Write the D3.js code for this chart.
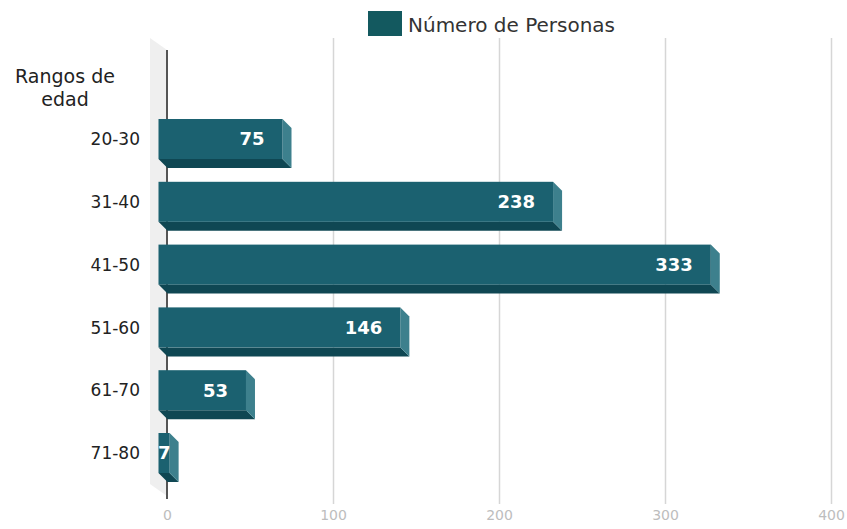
<!DOCTYPE html>
<html>
<head>
<meta charset="utf-8">
<script src="https://cdn.jsdelivr.net/npm/d3@7"></script>
<style>
  body { margin: 0; background: #fff; }
  text { font-family: "DejaVu Sans", sans-serif; }
</style>
</head>
<body>
<div id="chart"></div>
<script>
(function() {
  var categories = ["20-30", "31-40", "41-50", "51-60", "61-70", "71-80"];
  var values = [75, 238, 333, 146, 53, 7];
  var xTicks = [0, 100, 200, 300, 400];
  var seriesName = "Número de Personas";
  var axisTitle = ["Rangos de", "edad"];

  var outerWidth = 847,
      outerHeight = 529,
      depth = 9,
      barHeight = 40;

  var x = d3.scaleLinear()
      .domain([0, 400])
      .range([167, 831]);

  var y = d3.scalePoint()
      .domain(categories)
      .range([139, 453]);

  var svg = d3.select("#chart").append("svg")
      .attr("width", outerWidth)
      .attr("height", outerHeight);

  // side wall (3d look)
  var wallTop = 38, wallBottom = 496;
  svg.append("polygon")
      .attr("points", [
        [x(0) - 17, wallTop], [x(0), wallTop + 12],
        [x(0), wallBottom], [x(0) - 17, wallBottom - 12]
      ].join(" "))
      .attr("fill", "#efefef");

  // grid
  var xAxis = d3.axisBottom(x)
      .tickValues(xTicks)
      .tickSize(-(504 - 38))
      .tickPadding(6)
      .tickFormat(d => d);

  svg.append("g")
      .attr("class", "x axis")
      .attr("transform", "translate(0,504)")
      .call(xAxis)
      .call(g => g.select(".domain").remove())
      .call(g => g.selectAll(".tick line")
        .attr("stroke", "#d6d6d6")
        .attr("stroke-width", 1.5))
      .call(g => g.selectAll(".tick").filter(d => d === 0).select("line").remove())
      .call(g => g.selectAll(".tick text")
        .attr("fill", "#bdbdbd")
        .attr("font-size", "14px")
        .attr("font-family", "Roboto, sans-serif"));

  // zero line
  svg.append("line")
      .attr("x1", x(0)).attr("x2", x(0))
      .attr("y1", 50).attr("y2", 499)
      .attr("stroke", "#555")
      .attr("stroke-width", 2);

  // bars
  var bars = svg.append("g")
    .selectAll("g")
    .data(categories.map((c, i) => ({ cat: c, value: values[i] })))
    .join("g");

  bars.each(function(d) {
    var g = d3.select(this),
        x0 = x(0) - depth + 0.5,
        x1 = x(d.value) - depth,
        y0 = y(d.cat) - barHeight / 2,
        y1 = y(d.cat) + barHeight / 2;

    // bottom face
    g.append("polygon")
        .attr("points", [[x0, y1], [x1, y1], [x1 + depth, y1 + depth], [x0 + depth, y1 + depth]].join(" "))
        .attr("fill", "#0f4753");
    // right face
    g.append("polygon")
        .attr("points", [[x1, y0], [x1 + depth, y0 + depth], [x1 + depth, y1 + depth], [x1, y1]].join(" "))
        .attr("fill", "#3d808d");
    // front face
    g.append("rect")
        .attr("x", x0)
        .attr("y", y0)
        .attr("width", x1 - x0)
        .attr("height", barHeight)
        .attr("fill", "#1b6170");

    g.append("text")
        .attr("x", Math.max(x1 - 18, x0 + 12))
        .attr("y", y(d.cat))
        .attr("dy", "0.36em")
        .attr("text-anchor", "end")
        .attr("fill", "#fff")
        .attr("font-size", "18px")
        .attr("font-weight", "bold")
        .text(d.value);
  });

  // category labels
  svg.append("g")
    .selectAll("text")
    .data(categories)
    .join("text")
      .attr("x", 140)
      .attr("y", d => y(d))
      .attr("dy", "0.36em")
      .attr("text-anchor", "end")
      .attr("fill", "#222")
      .attr("font-size", "17px")
      .text(d => d);

  svg.append("text")
      .attr("x", 65)
      .attr("y", 76)
      .attr("text-anchor", "middle")
      .attr("fill", "#222")
      .attr("font-size", "19px")
    .selectAll("tspan")
    .data(axisTitle)
    .join("tspan")
      .attr("x", 65)
      .attr("dy", (d, i) => i ? "1.2em" : "0.36em")
      .text(d => d);

  // legend
  svg.append("rect")
      .attr("x", 368)
      .attr("y", 11)
      .attr("width", 34)
      .attr("height", 25)
      .attr("fill", "#13595f");

  svg.append("text")
      .attr("x", 408)
      .attr("y", 25)
      .attr("dy", "0.36em")
      .attr("fill", "#333")
      .attr("font-size", "20px")
      .text(seriesName);
})();
</script>
</body>
</html>
